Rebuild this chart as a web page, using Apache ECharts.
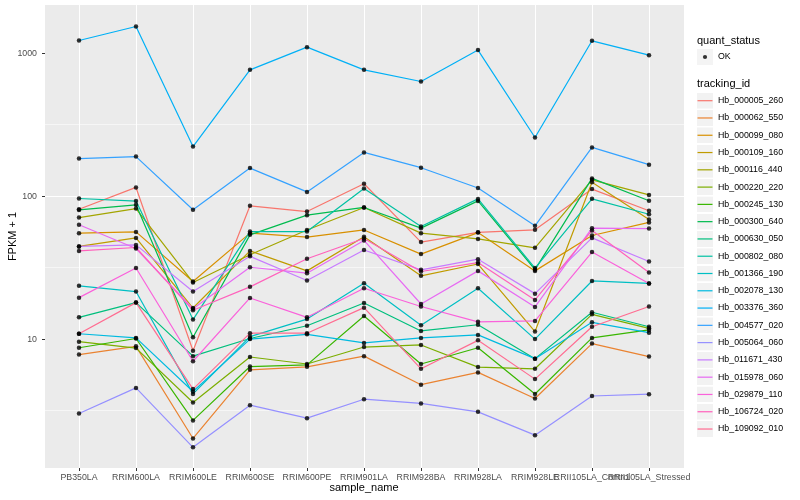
<!DOCTYPE html>
<html><head><meta charset="utf-8">
<script src="https://cdn.jsdelivr.net/npm/echarts@6/dist/echarts.min.js"></script>
<style>html,body{margin:0;padding:0;background:#fff}#c{width:800px;height:500px}</style>
</head><body><div id="c"></div>
<script>
const categories = ['PB350LA','RRIM600LA','RRIM600LE','RRIM600SE','RRIM600PE','RRIM901LA','RRIM928BA','RRIM928LA','RRIM928LE','RRII105LA_Control','RRII105LA_Stressed'];
const trackingIds = ['Hb_000005_260','Hb_000062_550','Hb_000099_080','Hb_000109_160','Hb_000116_440','Hb_000220_220','Hb_000245_130','Hb_000300_640','Hb_000630_050','Hb_000802_080','Hb_001366_190','Hb_002078_130','Hb_003376_360','Hb_004577_020','Hb_005064_060','Hb_011671_430','Hb_015978_060','Hb_029879_110','Hb_106724_020','Hb_109092_010'];
const colors = ['#F8766D','#EA8331','#D89000','#C09B00','#A3A500','#7CAE00','#39B600','#00BB4E','#00BF7D','#00C1A3','#00BFC4','#00BAE0','#00B0F6','#35A2FF','#9590FF','#C77CFF','#E76BF3','#FA62DB','#FF62BC','#FF6C91'];

const hb000005_260 = [81, 115, 8.3, 85.5, 78, 122, 47.7, 55.8, 58.1, 112, 79];
const hb000062_550 = [7.8, 8.9, 2.02, 6.1, 6.4, 7.6, 4.8, 5.85, 3.84, 9.3, 7.55];
const hb000099_080 = [55.1, 56.2, 25.3, 55.1, 51.7, 58, 39.3, 55.6, 30.0, 53, 65.5];
const hb000109_160 = [44.5, 51, 16.5, 41.4, 30.0, 52, 27.7, 33.5, 11.3, 125, 68.5];
const hb000116_440 = [70.8, 81.8, 24.9, 38.9, 58, 83.3, 55.1, 50.2, 43.5, 130, 102];
const hb000220_220 = [9.6, 8.65, 3.6, 7.5, 6.7, 8.8, 9.1, 6.37, 6.2, 14.9, 11.9];
const hb000245_130 = [8.7, 10.1, 2.7, 6.43, 6.6, 14.5, 6.7, 8.7, 4.13, 10.2, 11.6];
const hb000300_640 = [80, 86.9, 10.3, 53.6, 73.6, 83.3, 59.7, 92.6, 30.6, 133, 92.9];
const hb000630_050 = [14.2, 18.0, 7.6, 10.1, 12.4, 17.9, 11.4, 12.6, 7.3, 15.4, 12.2];
const hb000802_080 = [96.2, 92.3, 13.7, 56.5, 56.5, 113, 61.3, 95.6, 31.4, 95.7, 74.7];
const hb001366_190 = [23.6, 21.5, 4.14, 10.4, 13.8, 24.6, 12.5, 22.7, 10.0, 25.5, 24.5];
const hb002078_130 = [10.9, 10.2, 4.3, 10.0, 10.8, 9.4, 10.2, 10.7, 7.3, 13.1, 11.1];
const hb003376_360 = [1225, 1535, 222, 764, 1101, 764, 633, 1050, 257, 1219, 968];
const hb004577_020 = [183, 189, 80.2, 157, 107, 202, 158, 114, 62, 219, 166];
const hb005064_060 = [3.02, 4.56, 1.75, 3.45, 2.8, 3.8, 3.55, 3.1, 2.13, 4.0, 4.12];
const hb011671_430 = [44.5, 45.6, 21.5, 37.9, 25.7, 42, 30.5, 36.2, 20.8, 51, 34.9];
const hb015978_060 = [63, 43, 16.3, 31.8, 28.9, 49, 17.6, 30.0, 16.8, 59.7, 59.3];
const hb029879_110 = [19.5, 31.4, 7.0, 19.4, 14.2, 22.7, 16.9, 13.2, 13.4, 40.6, 24.5];
const hb106724_020 = [41.4, 43.7, 15.9, 23.2, 36.5, 50.5, 29.7, 34.3, 18.8, 57.5, 29.2];
const hb109092_010 = [10.9, 18.0, 4.47, 11.0, 11.0, 16.6, 6.2, 9.8, 5.25, 12.2, 16.9];

const yTicks = [10, 100, 1000];
const minorBreaks = [3.162, 31.62, 316.2];
const yMin = 1.255, yMax = 2170;

const seriesValues = [hb000005_260, hb000062_550, hb000099_080, hb000109_160, hb000116_440, hb000220_220, hb000245_130, hb000300_640, hb000630_050, hb000802_080, hb001366_190, hb002078_130, hb003376_360, hb004577_020, hb005064_060, hb011671_430, hb015978_060, hb029879_110, hb106724_020, hb109092_010];

const font = 'Liberation Sans, Arial, Helvetica, sans-serif';
const chart = echarts.init(document.getElementById('c'), null, {renderer: 'canvas'});

function keyIcon(inner) {
  const svg = "<svg xmlns='http://www.w3.org/2000/svg' width='16' height='16'><rect width='16' height='16' fill='#F2F2F2'/>" + inner + "</svg>";
  return 'image://data:image/svg+xml;charset=utf-8,' + encodeURIComponent(svg);
}

const lineSeries = trackingIds.map((id, k) => ({
  name: id, type: 'line', xAxisIndex: 1, yAxisIndex: 2, data: seriesValues[k],
  symbol: 'none', showSymbol: false, color: colors[k],
  lineStyle: {width: 1.2, color: colors[k]}, silent: true, z: 2
}));
const pointData = [];
seriesValues.forEach(vals => vals.forEach((v, i) => pointData.push([i, v])));
const pointSeries = {
  name: 'OK', type: 'scatter', xAxisIndex: 1, yAxisIndex: 2, data: pointData,
  symbolSize: 4.5, itemStyle: {color: '#000'}, silent: true, z: 3
};

const option = {
  animation: false,
  backgroundColor: '#fff',
  title: [
    {text: 'quant_status', left: 697, top: 35, padding: 0, textStyle: {fontSize: 11, fontWeight: 'normal', color: '#000', fontFamily: font}},
    {text: 'tracking_id', left: 697, top: 78.5, padding: 0, textStyle: {fontSize: 11, fontWeight: 'normal', color: '#000', fontFamily: font}}
  ],
  legend: [
    {orient: 'vertical', left: 697, top: 49, padding: 0, itemWidth: 16, itemHeight: 16, itemGap: 0,
     selectedMode: false, itemStyle: {borderWidth: 0},
     data: [{name: 'OK', icon: keyIcon("<circle cx='8' cy='8' r='2.1' fill='#000'/>")}],
     textStyle: {fontSize: 8.8, color: '#000', fontFamily: font}},
    {orient: 'vertical', left: 697, top: 92.7, padding: 0, itemWidth: 16, itemHeight: 16, itemGap: 1.28,
     selectedMode: false, itemStyle: {borderWidth: 0},
     data: trackingIds.map((n, k) => ({name: n, icon: keyIcon("<rect x='0.5' y='7.4' width='15' height='1.2' fill='" + colors[k] + "'/>")})),
     textStyle: {fontSize: 8.8, color: '#000', fontFamily: font}}
  ],
  grid: [
    {left: 45, top: 5, width: 639, height: 463, show: true, backgroundColor: '#EBEBEB', borderWidth: 0, containLabel: false, outerBoundsMode: 'none'},
    {left: 79, top: 5, width: 570, height: 463, show: false, containLabel: false, outerBoundsMode: 'none'}
  ],
  xAxis: [
    {type: 'category', gridIndex: 0, data: categories, show: false},
    {type: 'category', gridIndex: 1, data: categories, boundaryGap: false,
     axisLine: {show: false},
     axisTick: {show: true, length: 3, lineStyle: {color: '#333', width: 1}},
     axisLabel: {interval: 0, fontSize: 8.8, color: '#4D4D4D', fontFamily: font, margin: 5, hideOverlap: false},
     splitLine: {show: true, interval: 0, lineStyle: {color: '#fff', width: 1.07}},
     name: 'sample_name', nameLocation: 'middle', nameGap: 14, nameMoveOverlap: false,
     nameTextStyle: {fontSize: 11, color: '#000', fontFamily: font}}
  ],
  yAxis: [
    {type: 'log', gridIndex: 0, position: 'left', min: yMin, max: yMax, logBase: 10, splitNumber: 3,
     axisLine: {show: false},
     axisTick: {show: true, length: 3, lineStyle: {color: '#333', width: 1}, customValues: yTicks},
     axisLabel: {customValues: yTicks, fontSize: 8.8, color: '#4D4D4D', fontFamily: font, margin: 8, formatter: v => String(v)},
     splitLine: {show: true, showMinLine: false, showMaxLine: false, lineStyle: {color: '#fff', width: 1.07}},
     name: 'FPKM + 1', nameLocation: 'middle', nameGap: 27, nameMoveOverlap: false,
     nameTextStyle: {fontSize: 11, color: '#000', fontFamily: font}},
    {type: 'log', gridIndex: 0, position: 'left', offset: 0, min: yMin, max: yMax, logBase: 10, splitNumber: 3,
     axisLine: {show: false}, axisLabel: {show: false}, splitLine: {show: false},
     axisTick: {show: true, inside: true, length: 639, customValues: minorBreaks, lineStyle: {color: '#fff', width: 0.55}}},
    {type: 'log', gridIndex: 1, min: yMin, max: yMax, logBase: 10, show: false}
  ],
  series: lineSeries.concat([pointSeries])
};
chart.setOption(option);
</script>
</body></html>
